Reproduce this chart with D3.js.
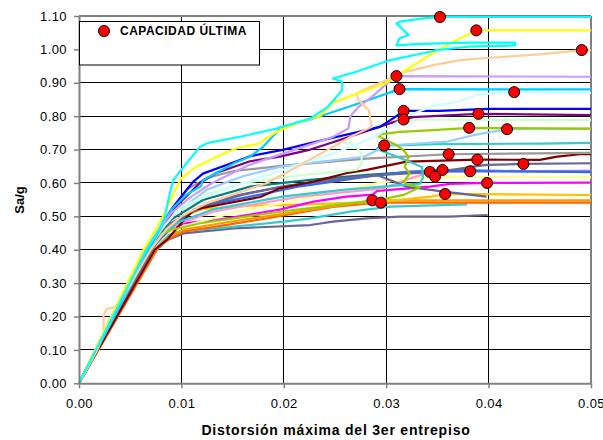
<!DOCTYPE html>
<html>
<head>
<meta charset="utf-8">
<script src="https://cdn.jsdelivr.net/npm/d3@7"></script>
<style>
  body { margin: 0; background: #fff; }
  svg { display: block; font-family: "Liberation Sans", Arial, sans-serif; }
</style>
</head>
<body>
<svg id="chart" width="603" height="440"></svg>
<script>
// Axis ticks
const xTicks = [0, 0.01, 0.02, 0.03, 0.04, 0.05]
const yTicks = [0, 0.1, 0.2, 0.3, 0.4, 0.5, 0.6, 0.7, 0.8, 0.9, 1.0, 1.1]

// Pushover curves: [drift, Sa/g]
const cyanPts = [[0,0],[0.0066,0.40],[0.0078,0.46],[0.0084,0.50],[0.0088,0.56],[0.0092,0.609],[0.010,0.64],[0.0118,0.708],[0.0126,0.72],[0.016,0.74],[0.0193,0.763],[0.0226,0.793],[0.0243,0.828],[0.025,0.853],[0.0257,0.878],[0.0257,0.903],[0.0248,0.913],[0.0271,0.933],[0.0304,0.968],[0.0343,0.993],[0.0349,0.998],[0.038,1.008],[0.0426,1.012],[0.0426,1.02],[0.038,1.02],[0.0328,1.016],[0.031,1.012],[0.0313,1.033],[0.0322,1.043],[0.031,1.078],[0.0313,1.083],[0.0336,1.093],[0.03525,1.097],[0.05,1.097]]
const yellowPts = [[0,0],[0.0063,0.40],[0.0075,0.46],[0.0081,0.494],[0.0089,0.549],[0.010,0.614],[0.0112,0.644],[0.0134,0.678],[0.0154,0.704],[0.0177,0.719],[0.0183,0.734],[0.0193,0.753],[0.0216,0.783],[0.0235,0.80],[0.0248,0.84],[0.0265,0.86],[0.0287,0.885],[0.030,0.90],[0.0323,0.945],[0.0346,0.99],[0.0372,1.033],[0.0388,1.057],[0.05,1.057]]
const peachPts = [[0,0],[0.0018,0.10],[0.0024,0.15],[0.0024,0.205],[0.0027,0.222],[0.0035,0.228],[0.004,0.243],[0.007,0.40],[0.0085,0.46],[0.010,0.50],[0.0125,0.54],[0.015,0.565],[0.0183,0.599],[0.0216,0.654],[0.0248,0.708],[0.0265,0.738],[0.0286,0.768],[0.0283,0.818],[0.0273,0.848],[0.0271,0.868],[0.0281,0.883],[0.0304,0.913],[0.0313,0.928],[0.0346,0.953],[0.0372,0.968],[0.0401,0.975],[0.045,0.985],[0.0491,0.998],[0.05,0.998]]
const lavenderPts = [[0,0],[0.0065,0.40],[0.0078,0.46],[0.009,0.51],[0.011,0.56],[0.013,0.60],[0.0167,0.655],[0.0216,0.705],[0.0248,0.738],[0.0263,0.763],[0.0265,0.80],[0.0273,0.828],[0.0286,0.858],[0.0299,0.893],[0.031,0.92],[0.05,0.918]]
const skyPts = [[0,0],[0.0068,0.40],[0.0079,0.46],[0.009,0.52],[0.0105,0.565],[0.0119,0.59],[0.0121,0.608],[0.0151,0.658],[0.0167,0.679],[0.018,0.709],[0.0189,0.739],[0.0194,0.754],[0.0196,0.766],[0.0226,0.79],[0.027,0.835],[0.0313,0.881],[0.05,0.880]]
const paleCyanPts = [[0,0],[0.0068,0.40],[0.008,0.46],[0.010,0.53],[0.015,0.59],[0.020,0.64],[0.025,0.69],[0.029,0.74],[0.0305,0.77],[0.032,0.80],[0.0345,0.83],[0.037,0.843],[0.039,0.865],[0.0425,0.872],[0.05,0.87]]
const bluePts = [[0,0],[0.0066,0.40],[0.0079,0.46],[0.009,0.52],[0.0105,0.579],[0.0112,0.605],[0.0121,0.628],[0.0154,0.665],[0.0167,0.68],[0.020,0.70],[0.0229,0.722],[0.0294,0.768],[0.031,0.80],[0.0317,0.816],[0.0352,0.816],[0.040,0.822],[0.05,0.822]]
const purplePts = [[0,0],[0.0068,0.40],[0.008,0.46],[0.0095,0.53],[0.0118,0.60],[0.0134,0.63],[0.0167,0.665],[0.0196,0.679],[0.0226,0.70],[0.0245,0.719],[0.0304,0.779],[0.0326,0.797],[0.039,0.807],[0.05,0.803]]
const paleGreenPts = [[0,0],[0.0068,0.40],[0.0078,0.45],[0.009,0.50],[0.012,0.56],[0.016,0.60],[0.0216,0.623],[0.0271,0.639],[0.0276,0.659],[0.0276,0.689],[0.0268,0.715],[0.0248,0.728],[0.027,0.745],[0.029,0.77],[0.0317,0.79],[0.05,0.788]]
const limePts = [[0,0],[0.0064,0.40],[0.0075,0.44],[0.009,0.46],[0.012,0.48],[0.0165,0.50],[0.0209,0.519],[0.0255,0.535],[0.0295,0.55],[0.0318,0.565],[0.0333,0.588],[0.0323,0.593],[0.0317,0.603],[0.0323,0.628],[0.0318,0.648],[0.0322,0.678],[0.0317,0.698],[0.031,0.713],[0.0297,0.733],[0.0291,0.743],[0.030,0.748],[0.0313,0.753],[0.0346,0.758],[0.0381,0.765],[0.05,0.763]]
const lightBluePts = [[0,0],[0.0068,0.40],[0.0078,0.45],[0.009,0.50],[0.0125,0.58],[0.016,0.62],[0.0196,0.648],[0.0226,0.66],[0.0278,0.678],[0.0291,0.698],[0.0304,0.713],[0.036,0.724],[0.0385,0.743],[0.0418,0.761],[0.05,0.762]]
const turquoisePts = [[0,0],[0.0069,0.40],[0.008,0.44],[0.0095,0.48],[0.013,0.52],[0.020,0.56],[0.026,0.58],[0.0333,0.598],[0.0336,0.618],[0.0335,0.648],[0.0323,0.663],[0.0307,0.683],[0.0294,0.698],[0.0291,0.704],[0.0298,0.712],[0.035,0.716],[0.045,0.718],[0.05,0.72]]
const grayPts = [[0,0],[0.0065,0.40],[0.0078,0.46],[0.009,0.52],[0.0105,0.58],[0.0125,0.615],[0.015,0.635],[0.020,0.652],[0.028,0.673],[0.0361,0.686],[0.05,0.69]]
const darkRedPts = [[0,0],[0.0074,0.40],[0.0086,0.43],[0.010,0.48],[0.0112,0.52],[0.0177,0.558],[0.0196,0.584],[0.0229,0.604],[0.0261,0.629],[0.0281,0.639],[0.032,0.664],[0.0389,0.67],[0.045,0.669],[0.0467,0.679],[0.0489,0.686],[0.05,0.686]]
const slatePts = [[0,0],[0.0069,0.40],[0.008,0.44],[0.009,0.48],[0.012,0.53],[0.016,0.565],[0.020,0.59],[0.025,0.612],[0.030,0.625],[0.0353,0.634],[0.0385,0.649],[0.0398,0.654],[0.0434,0.657],[0.05,0.659]]
const royalPts = [[0,0],[0.007,0.40],[0.0082,0.44],[0.0095,0.48],[0.0118,0.529],[0.0134,0.539],[0.0167,0.559],[0.0216,0.59],[0.0248,0.604],[0.0281,0.619],[0.0323,0.634],[0.0382,0.635],[0.05,0.634]]
const pinkPts = [[0,0],[0.007,0.40],[0.008,0.44],[0.009,0.47],[0.0131,0.514],[0.0167,0.534],[0.0216,0.559],[0.0265,0.574],[0.0297,0.584],[0.032,0.61],[0.03426,0.633],[0.05,0.637]]
const tealPts = [[0,0],[0.0068,0.40],[0.008,0.45],[0.009,0.49],[0.0121,0.549],[0.0167,0.589],[0.0226,0.609],[0.0281,0.624],[0.032,0.632],[0.0355,0.639],[0.05,0.632]]
const paleYellowPts = [[0,0],[0.0069,0.40],[0.008,0.43],[0.009,0.46],[0.0154,0.514],[0.0226,0.555],[0.0281,0.594],[0.0313,0.609],[0.03477,0.619],[0.05,0.617]]
const magentaPts = [[0,0],[0.007,0.40],[0.0085,0.45],[0.0102,0.479],[0.0134,0.489],[0.0196,0.52],[0.0229,0.544],[0.0261,0.559],[0.0287,0.565],[0.0291,0.576],[0.0304,0.579],[0.0343,0.589],[0.0362,0.597],[0.03985,0.60],[0.05,0.601]]
const goldPts = [[0,0],[0.0069,0.40],[0.0085,0.46],[0.0102,0.50],[0.0121,0.522],[0.0167,0.532],[0.0226,0.536],[0.030,0.545],[0.0345,0.56],[0.03575,0.567],[0.05,0.564]]
const orangePts = [[0,0],[0.0074,0.40],[0.0088,0.44],[0.0102,0.46],[0.014,0.48],[0.0183,0.50],[0.0226,0.52],[0.026,0.535],[0.02865,0.548],[0.05,0.548]]
const darkOrangePts = [[0,0],[0.0076,0.40],[0.0088,0.434],[0.0102,0.454],[0.0134,0.469],[0.0183,0.494],[0.0216,0.512],[0.0248,0.528],[0.0281,0.538],[0.02947,0.541],[0.05,0.541]]
const lowTealPts = [[0,0],[0.0073,0.40],[0.0088,0.445],[0.0102,0.459],[0.0134,0.464],[0.0167,0.474],[0.020,0.484],[0.0226,0.494],[0.0265,0.514],[0.0304,0.529],[0.0379,0.536]]
const lowSlatePts = [[0,0],[0.0073,0.40],[0.0087,0.43],[0.0102,0.449],[0.0151,0.464],[0.0226,0.474],[0.0248,0.484],[0.0281,0.494],[0.0313,0.499],[0.0362,0.499],[0.0399,0.504]]
const dropSlatePts = [[0,0],[0.0071,0.40],[0.0082,0.45],[0.010,0.50],[0.015,0.56],[0.020,0.59],[0.025,0.61],[0.0291,0.624],[0.032,0.589],[0.0356,0.574],[0.0398,0.559]]

const curves = [lowSlatePts, lowTealPts, darkOrangePts, orangePts, goldPts, magentaPts, paleYellowPts,
  tealPts, pinkPts, royalPts, dropSlatePts, slatePts, darkRedPts, grayPts, turquoisePts, lightBluePts,
  limePts, paleGreenPts, purplePts, bluePts, paleCyanPts, skyPts, lavenderPts, peachPts, yellowPts, cyanPts]
const curveColors = ['#666699', '#33CCCC', '#FF6600', '#FF9900', '#FFC000', '#FF00FF', '#FFFF99',
  '#008080', '#FF99CC', '#3366FF', '#666699', '#666699', '#800000', '#999999', '#33CCCC', '#99CCFF',
  '#99CC00', '#CCFFCC', '#800080', '#0000FF', '#CCFFFF', '#00CCFF', '#CC99FF', '#FFCC99', '#FFFF00', '#00FFFF']

// Ultimate capacity points (red markers)
const ultimateX = [0.03525, 0.0388, 0.0491, 0.031, 0.0313, 0.0425, 0.0317, 0.0317, 0.039, 0.0381, 0.0418,
  0.0298, 0.0361, 0.0389, 0.0434, 0.03426, 0.0355, 0.03477, 0.0382, 0.03985, 0.03575, 0.02865, 0.02947]
const ultimateY = [1.097, 1.057, 0.998, 0.920, 0.881, 0.872, 0.816, 0.790, 0.807, 0.765, 0.761,
  0.712, 0.686, 0.670, 0.657, 0.633, 0.639, 0.619, 0.635, 0.600, 0.567, 0.548, 0.541]

const legendLabel = 'CAPACIDAD ÚLTIMA'
const xTitle = 'Distorsión máxima del 3er entrepiso'
const yTitle = 'Sa/g'

const svg = d3.select('#chart')
const [x0, x1, y0, y1] = [79, 591, 383.3, 16]

const x = d3.scaleLinear().domain([0, 0.05]).range([x0, x1])
const y = d3.scaleLinear().domain([0, 1.1]).range([y0, y1])

// Grid lines
const grid = svg.append('g').attr('shape-rendering', 'crispEdges')
grid.selectAll('.hg')
  .data(yTicks.slice(1, -1))
  .join('line')
  .attr('x1', x0).attr('x2', x1)
  .attr('y1', d => y(d)).attr('y2', d => y(d))
  .attr('stroke', '#000').attr('stroke-width', 1)
grid.selectAll('.vg')
  .data(xTicks.slice(1, -1))
  .join('line')
  .attr('x1', d => x(d)).attr('x2', d => x(d))
  .attr('y1', y0).attr('y2', y1)
  .attr('stroke', '#000').attr('stroke-width', 1)

// Plot border (top and right)
grid.append('line').attr('x1', x0).attr('x2', x1).attr('y1', y1).attr('y2', y1)
  .attr('stroke', '#808080').attr('stroke-width', 2)
grid.append('line').attr('x1', x1).attr('x2', x1).attr('y1', y0).attr('y2', y1)
  .attr('stroke', '#808080').attr('stroke-width', 2)

// Curves
const line = d3.line().x(d => x(d[0])).y(d => y(d[1]))
svg.append('g')
  .selectAll('path')
  .data(curves)
  .join('path')
  .attr('d', line)
  .attr('fill', 'none')
  .attr('stroke', (d, i) => curveColors[i])
  .attr('stroke-width', 2.2)
  .attr('stroke-linejoin', 'round')

// Axes
const xAxis = svg.append('g')
  .attr('transform', `translate(0,${y0})`)
  .call(d3.axisBottom(x).tickValues(xTicks).tickFormat(d3.format('.2f')).tickSize(5).tickSizeOuter(0))
const yAxis = svg.append('g')
  .attr('transform', `translate(${x0},0)`)
  .call(d3.axisLeft(y).tickValues(yTicks).tickFormat(d3.format('.2f')).tickSize(5).tickSizeOuter(0))

for (let ax of [xAxis, yAxis]) {
  ax.select('.domain').attr('stroke', '#808080').attr('stroke-width', 2)
  ax.selectAll('.tick line').attr('stroke', '#808080').attr('stroke-width', 1.5)
  ax.selectAll('.tick text')
    .attr('fill', '#000')
    .style('font-size', '13px')
    .style('font-family', '"Liberation Sans", Arial, sans-serif')
    .style('letter-spacing', '0.4px')
}
xAxis.selectAll('.tick text').attr('y', 15)
yAxis.selectAll('.tick text').attr('x', -12)

// Ultimate capacity markers
svg.append('g')
  .selectAll('circle')
  .data(ultimateX)
  .join('circle')
  .attr('cx', d => x(d))
  .attr('cy', (d, i) => y(ultimateY[i]))
  .attr('r', 5.5)
  .attr('fill', '#FF0000')
  .attr('stroke', '#000')
  .attr('stroke-width', 1)

// Legend
const legend = svg.append('g')
legend.append('rect')
  .attr('x', 79.5).attr('y', 21.5)
  .attr('width', 180).attr('height', 43.5)
  .attr('fill', '#fff').attr('stroke', '#000').attr('stroke-width', 1)
legend.append('circle')
  .attr('cx', 104).attr('cy', 31).attr('r', 5.5)
  .attr('fill', '#FF0000').attr('stroke', '#000').attr('stroke-width', 1)
legend.append('text')
  .attr('x', 120).attr('y', 35)
  .style('font-size', '12px').style('font-weight', 'bold')
  .style('letter-spacing', '0.5px')
  .text(legendLabel)

// Axis titles
svg.append('text')
  .attr('x', 336).attr('y', 435)
  .attr('text-anchor', 'middle')
  .style('font-size', '14px').style('font-weight', 'bold')
  .style('letter-spacing', '0.8px')
  .text(xTitle)
svg.append('text')
  .attr('transform', 'translate(24,200) rotate(-90)')
  .attr('text-anchor', 'middle')
  .style('font-size', '13px').style('font-weight', 'bold')
  .text(yTitle)
</script>
</body>
</html>
